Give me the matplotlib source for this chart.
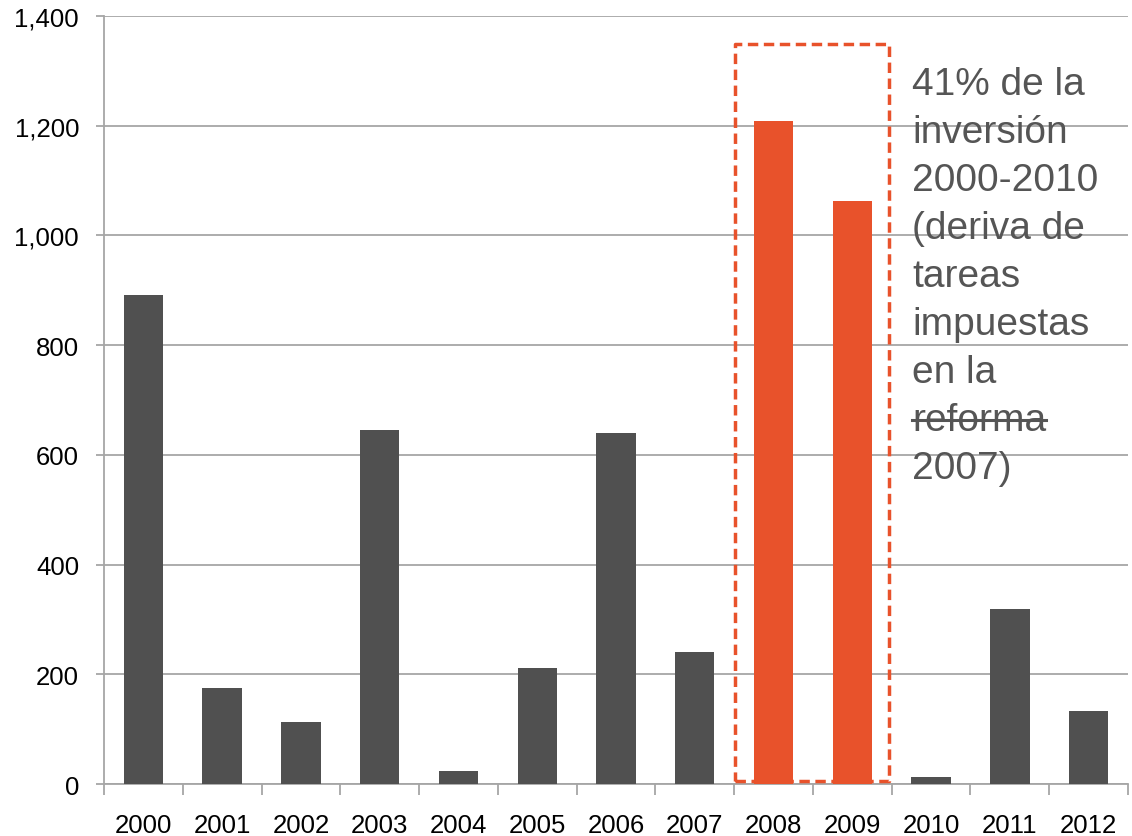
import matplotlib
matplotlib.use("Agg")
import matplotlib.pyplot as plt

plt.rcParams['font.family'] = ['Liberation Sans', 'DejaVu Sans']

years = ["2000", "2001", "2002", "2003", "2004", "2005", "2006",
         "2007", "2008", "2009", "2010", "2011", "2012"]
values = [891, 175, 113, 645, 24, 211, 640, 241, 1209, 1063, 13, 319, 133]
highlight = ["2008", "2009"]
note_lines = ["41% de la", "inversión", "2000-2010", "(deriva de", "tareas",
              "impuestas", "en la", "reforma", "2007)"]
struck = "reforma"

dark = "#505050"
orange = "#E8522B"
grid_c = "#A6A6A6"

fig = plt.figure(figsize=(11.32, 8.37), dpi=100)
ax = fig.add_axes([0.0919, 0.0621, 0.9046, 0.9176])

x = list(range(len(years)))
colors = [orange if y in highlight else dark for y in years]
ax.bar(x, values, width=0.5, color=colors, zorder=3)

ax.set_xlim(-0.5, len(years) - 0.5)
ax.set_ylim(0, 1400)
ax.set_yticks(range(0, 1401, 200))
ax.set_yticklabels(["{:,}".format(v) for v in range(0, 1401, 200)])
ax.yaxis.grid(True, color=grid_c, linewidth=1.3, zorder=0)

ax.set_xticks(x)
ax.set_xticklabels(years)
ax.set_xticks([i - 0.5 for i in range(len(years) + 1)], minor=True)
ax.tick_params(axis="x", which="major", length=0, pad=21, labelsize=18.5)
ax.tick_params(axis="x", which="minor", length=8, color=grid_c, width=1.3)
ax.tick_params(axis="y", length=6, color=grid_c, width=1.3, labelsize=18.5, pad=12)

for s in ["top", "right"]:
    ax.spines[s].set_visible(False)
for s in ["left", "bottom"]:
    ax.spines[s].set_color(grid_c)
    ax.spines[s].set_linewidth(1.3)

# dashed box around the highlighted years
i0 = years.index(highlight[0])
i1 = years.index(highlight[-1])
bx = [i0 - 0.49, i1 + 0.46, i1 + 0.46, i0 - 0.49, i0 - 0.49]
by = [5, 5, 1349, 1349, 5]
ax.plot(bx, by, linestyle=(0, (3, 1.6)), color=orange, linewidth=2.5,
        zorder=4, clip_on=False)

# annotation, one line at a time so "reforma" can be struck through
fig.canvas.draw()
renderer = fig.canvas.get_renderer()
for k, line in enumerate(note_lines):
    ypix = 837 - (95 + 48 * k)
    t = fig.text(912 / 1132, ypix / 837, line, fontsize=28, color="#555555",
                 va="baseline", ha="left")
    if line == struck:
        bb = t.get_window_extent(renderer=renderer)
        ymid = ypix + 10
        fig.add_artist(plt.Line2D([bb.x0 / 1132, bb.x1 / 1132],
                                  [ymid / 837, ymid / 837],
                                  color="#555555", linewidth=2.2))

fig.savefig("out.png", dpi=100)
